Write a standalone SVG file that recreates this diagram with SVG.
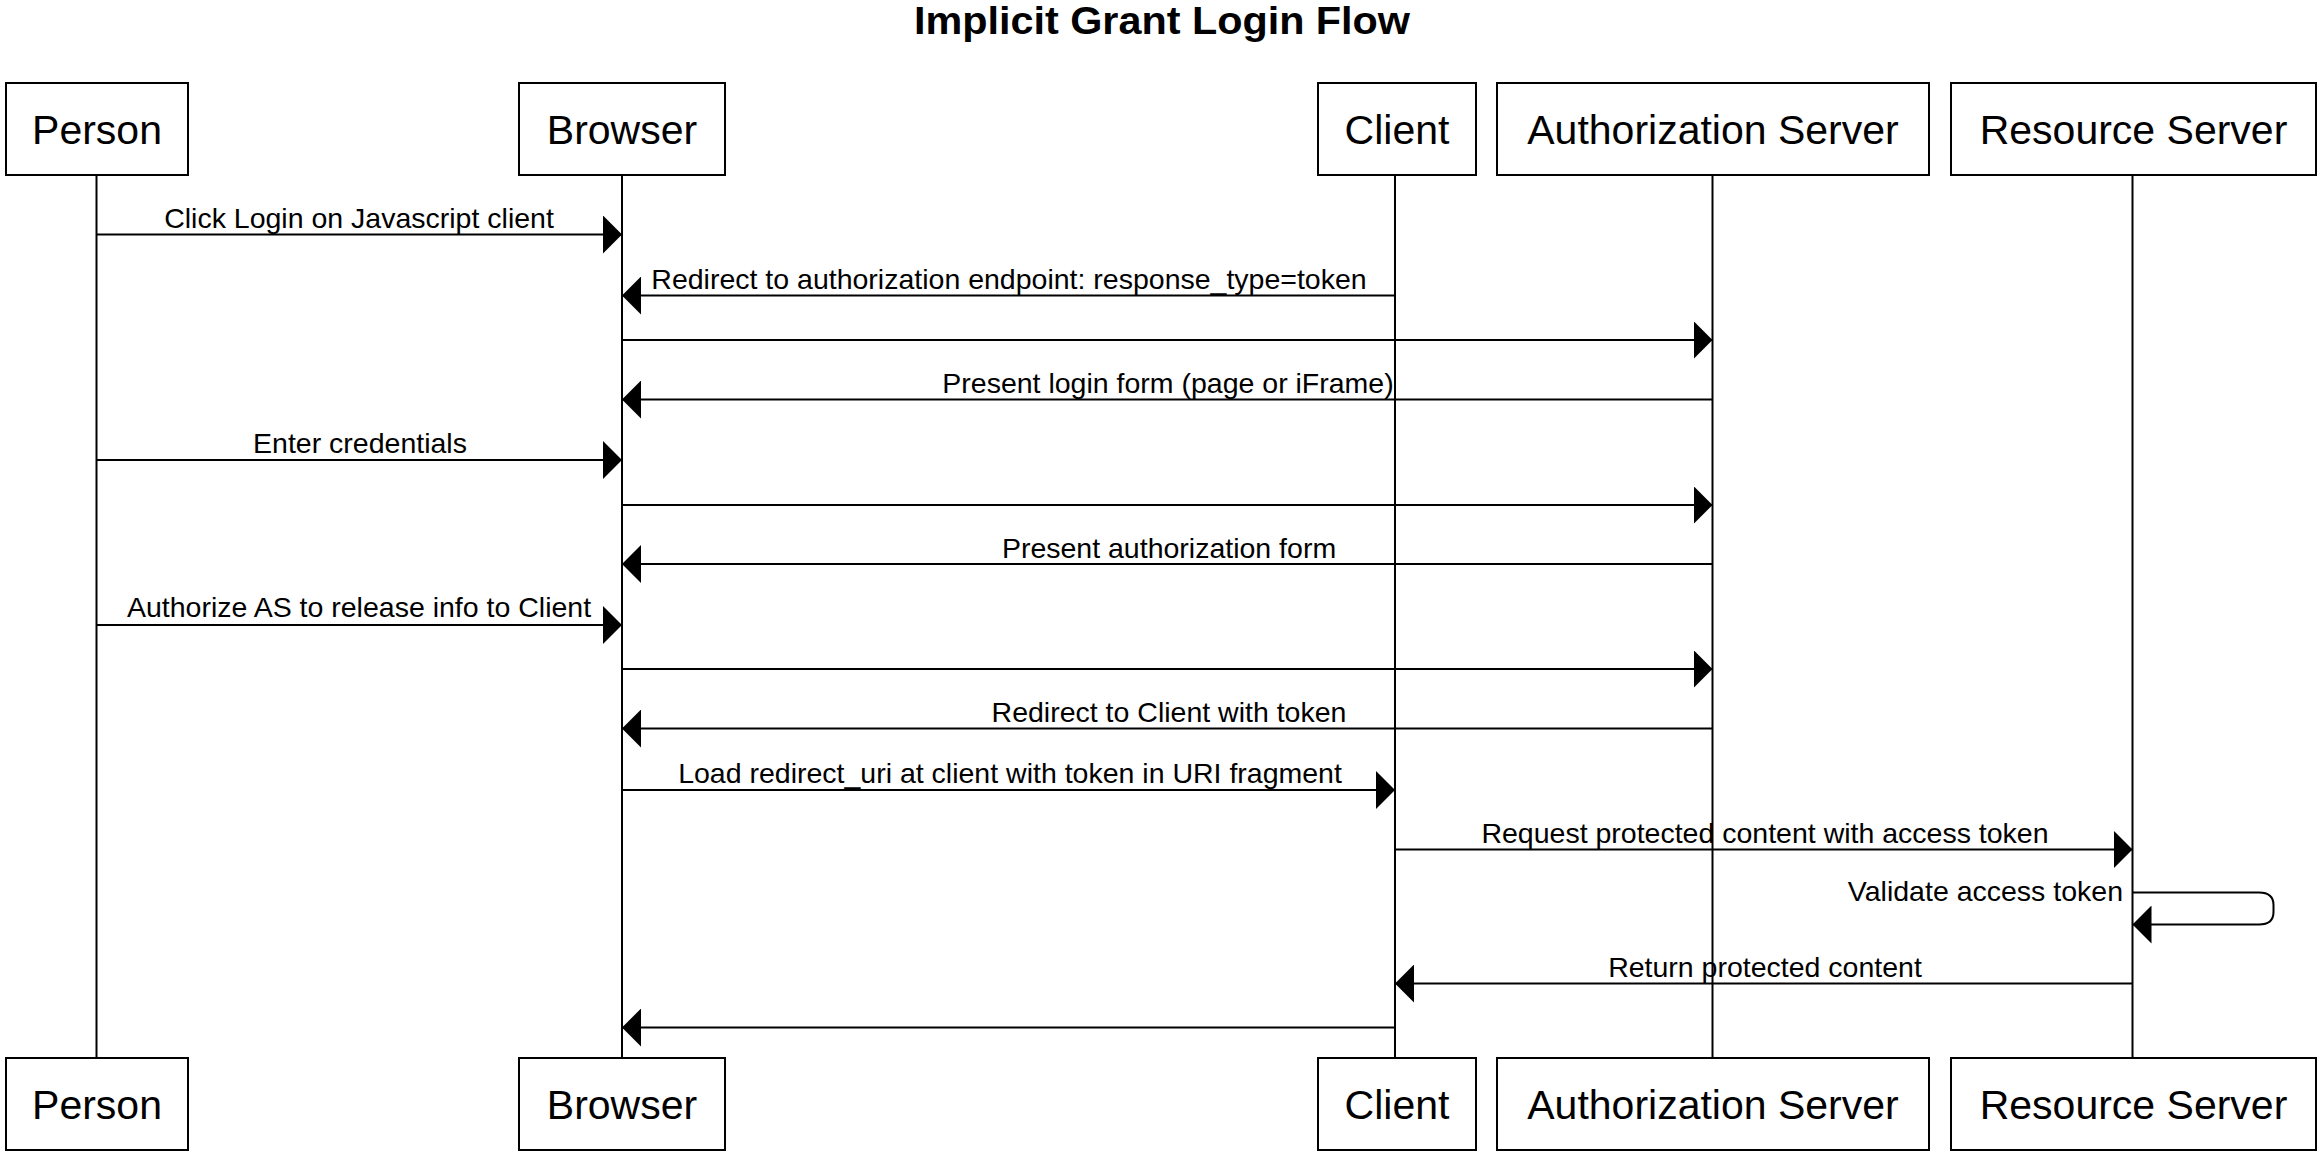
<svg xmlns="http://www.w3.org/2000/svg" width="2323" height="1157" viewBox="0 0 2323 1157">
  <style>
    .box { fill: #ffffff; stroke: #000000; stroke-width: 2; }
    .node-label { font-family: "Liberation Sans", Arial, sans-serif; font-size: 41px; fill: #000000; text-anchor: middle; }
    .lifeline { stroke: #000000; stroke-width: 2; fill: none; }
    .msg { stroke: #000000; stroke-width: 2; fill: none; marker-end: url(#arrow); }
    .msg-label { font-family: "Liberation Sans", Arial, sans-serif; font-size: 28.5px; fill: #000000; text-anchor: middle; }
    .title { font-family: "Liberation Sans", Arial, sans-serif; font-size: 38px; font-weight: bold; fill: #000000; text-anchor: middle; }
  </style>
  <defs>
    <marker id="arrow" markerUnits="userSpaceOnUse" markerWidth="20" markerHeight="38" refX="19" refY="19" orient="auto" viewBox="0 0 20 38">
      <path d="M0,0 L19,19 L0,38 Z" fill="#000000"/>
    </marker>
  </defs>
  <rect x="0" y="0" width="2323" height="1157" fill="#ffffff"/>

  <text class="title" x="1162" y="34" textLength="496" lengthAdjust="spacingAndGlyphs">Implicit Grant Login Flow</text>

  <g id="lifelines">
    <line class="lifeline" x1="96.5" y1="176" x2="96.5" y2="1057"/>
    <line class="lifeline" x1="622" y1="176" x2="622" y2="1057"/>
    <line class="lifeline" x1="1395" y1="176" x2="1395" y2="1057"/>
    <line class="lifeline" x1="1712.5" y1="176" x2="1712.5" y2="1057"/>
    <line class="lifeline" x1="2132.5" y1="176" x2="2132.5" y2="1057"/>
  </g>

  <g id="node-person-top">
    <rect class="box" x="6" y="83" width="182" height="92"/>
    <text class="node-label" x="97" y="144">Person</text>
  </g>
  <g id="node-browser-top">
    <rect class="box" x="519" y="83" width="206" height="92"/>
    <text class="node-label" x="622" y="144">Browser</text>
  </g>
  <g id="node-client-top">
    <rect class="box" x="1318" y="83" width="158" height="92"/>
    <text class="node-label" x="1397" y="144">Client</text>
  </g>
  <g id="node-authserver-top">
    <rect class="box" x="1497" y="83" width="432" height="92"/>
    <text class="node-label" x="1713" y="144">Authorization Server</text>
  </g>
  <g id="node-resourceserver-top">
    <rect class="box" x="1951" y="83" width="365" height="92"/>
    <text class="node-label" x="2133.5" y="144">Resource Server</text>
  </g>

  <g id="node-person-bottom">
    <rect class="box" x="6" y="1058" width="182" height="92"/>
    <text class="node-label" x="97" y="1119">Person</text>
  </g>
  <g id="node-browser-bottom">
    <rect class="box" x="519" y="1058" width="206" height="92"/>
    <text class="node-label" x="622" y="1119">Browser</text>
  </g>
  <g id="node-client-bottom">
    <rect class="box" x="1318" y="1058" width="158" height="92"/>
    <text class="node-label" x="1397" y="1119">Client</text>
  </g>
  <g id="node-authserver-bottom">
    <rect class="box" x="1497" y="1058" width="432" height="92"/>
    <text class="node-label" x="1713" y="1119">Authorization Server</text>
  </g>
  <g id="node-resourceserver-bottom">
    <rect class="box" x="1951" y="1058" width="365" height="92"/>
    <text class="node-label" x="2133.5" y="1119">Resource Server</text>
  </g>

  <g id="connectors">
    <line class="msg" x1="96.5" y1="234.5" x2="622" y2="234.5"/>
    <text class="msg-label" x="359" y="228">Click Login on Javascript client</text>

    <line class="msg" x1="1395" y1="295.5" x2="622" y2="295.5"/>
    <text class="msg-label" x="1009" y="288.5">Redirect to authorization endpoint: response_type=token</text>

    <line class="msg" x1="622" y1="340" x2="1712.5" y2="340"/>

    <line class="msg" x1="1712.5" y1="399.5" x2="622" y2="399.5"/>
    <text class="msg-label" x="1168" y="392.5">Present login form (page or iFrame)</text>

    <line class="msg" x1="96.5" y1="460" x2="622" y2="460"/>
    <text class="msg-label" x="360" y="453">Enter credentials</text>

    <line class="msg" x1="622" y1="505" x2="1712.5" y2="505"/>

    <line class="msg" x1="1712.5" y1="564" x2="622" y2="564"/>
    <text class="msg-label" x="1169" y="557.5">Present authorization form</text>

    <line class="msg" x1="96.5" y1="625" x2="622" y2="625"/>
    <text class="msg-label" x="359" y="617">Authorize AS to release info to Client</text>

    <line class="msg" x1="622" y1="669" x2="1712.5" y2="669"/>

    <line class="msg" x1="1712.5" y1="728.5" x2="622" y2="728.5"/>
    <text class="msg-label" x="1169" y="721.5">Redirect to Client with token</text>

    <line class="msg" x1="622" y1="790" x2="1395" y2="790"/>
    <text class="msg-label" x="1010" y="783">Load redirect_uri at client with token in URI fragment</text>

    <line class="msg" x1="1395" y1="849.5" x2="2132.5" y2="849.5"/>
    <text class="msg-label" x="1765" y="842.5">Request protected content with access token</text>

    <path class="msg" d="M2132.5,892.5 L2259,892.5 Q2273.5,892.5 2273.5,905 L2273.5,912 Q2273.5,924.5 2259,924.5 L2132.5,924.5"/>
    <text class="msg-label" x="2123" y="900.5" style="text-anchor:end">Validate access token</text>

    <line class="msg" x1="2132.5" y1="983.5" x2="1395" y2="983.5"/>
    <text class="msg-label" x="1765" y="976.5">Return protected content</text>

    <line class="msg" x1="1395" y1="1027.5" x2="622" y2="1027.5"/>
  </g>
</svg>
